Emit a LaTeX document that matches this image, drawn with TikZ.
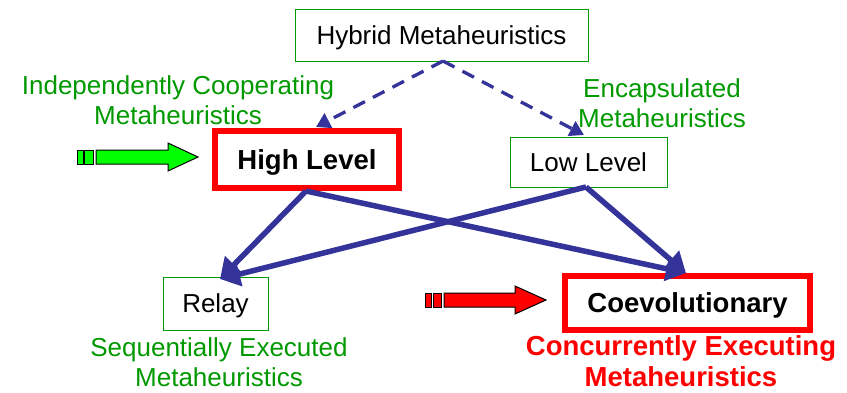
\documentclass[tikz,border=0pt]{standalone}
\usepackage{fontspec}
\setmainfont{Liberation Sans}
\usetikzlibrary{arrows.meta}
\definecolor{lblgreen}{RGB}{0,153,0}
\definecolor{boxgreen}{RGB}{0,153,0}
\definecolor{arrblue}{RGB}{51,51,153}
\definecolor{brightgreen}{RGB}{0,255,0}
\tikzset{
  thinbox/.style={draw=boxgreen, line width=0.8pt, inner sep=0pt, text height=18.6pt, text depth=0pt, font=\fontsize{26}{28}\selectfont},
  redbox/.style={draw=red, line width=6pt, inner sep=0pt, text height=19.7pt, text depth=0pt, font=\bfseries\fontsize{27.5}{30}\selectfont},
  greenlbl/.style={text=lblgreen, align=center, inner sep=0pt, font=\fontsize{26}{30}\selectfont},
  redlbl/.style={text=red, align=center, inner sep=0pt, font=\bfseries\fontsize{27.5}{31}\selectfont},
  dasharrow/.style={draw=arrblue, line width=3.3pt, dash pattern=on 13pt off 9pt, -{Triangle[length=14pt,width=16pt]}},
  bluearrow/.style={draw=arrblue, line width=5.5pt, -{Triangle[length=20pt,width=24pt]}},
  blockarrow/.style={draw=black, line width=1pt}
}
\begin{document}
\begin{tikzpicture}[x=1pt,y=1pt]
\useasboundingbox (0,0) rectangle (847,-392);
\node[thinbox, minimum width=293pt, minimum height=52pt] (hyb) at (441.5,-35) {Hybrid Metaheuristics};
\node[redbox, minimum width=184pt, minimum height=57pt] (high) at (307,-159.5) {High Level};
\node[thinbox, minimum width=157pt, minimum height=50pt] (low) at (588.5,-162) {Low Level};
\node[thinbox, minimum width=105pt, minimum height=53pt] (relay) at (215.5,-303.5) {Relay};
\node[redbox, minimum width=245pt, minimum height=54pt] (coev) at (687.5,-303) {Coevolutionary};

\node[greenlbl] (indep) at (178,-100) {Independently Cooperating\\Metaheuristics};
\node[greenlbl] (encap) at (662,-103) {Encapsulated\\Metaheuristics};
\node[greenlbl] (seq) at (219,-362) {Sequentially Executed\\Metaheuristics};
\node[redlbl] (conc) at (681,-361) {Concurrently Executing\\Metaheuristics};

\coordinate (hs) at (443,-61);
\coordinate (ht) at (316,-127);
\coordinate (lt) at (584,-135);
\draw[dasharrow] (hs) -- (ht);
\draw[dasharrow] (hs) -- (lt);

\coordinate (hb) at (306,-191);
\coordinate (lb) at (586,-187);
\coordinate (rt) at (220,-279);
\coordinate (ct) at (686,-273);
\draw[bluearrow] (hb) -- (rt);
\draw[bluearrow] (hb) -- (ct);
\draw[bluearrow] (lb) -- (rt);
\draw[bluearrow] (lb) -- (ct);

% green block arrow
\draw[blockarrow, fill=brightgreen] (77,-150) rectangle (83,-164);
\draw[blockarrow, fill=brightgreen] (84.5,-150) rectangle (93,-164);
\draw[blockarrow, fill=brightgreen] (96,-150) -- (168,-150) -- (168,-143) -- (198,-157) -- (168,-171) -- (168,-164) -- (96,-164) -- cycle;
% red block arrow
\draw[blockarrow, fill=red] (425,-293) rectangle (431.5,-307);
\draw[blockarrow, fill=red] (433,-293) rectangle (441.5,-307);
\draw[blockarrow, fill=red] (444,-293) -- (515,-293) -- (515,-286) -- (546,-300) -- (515,-314) -- (515,-307) -- (444,-307) -- cycle;
\end{tikzpicture}
\end{document}
